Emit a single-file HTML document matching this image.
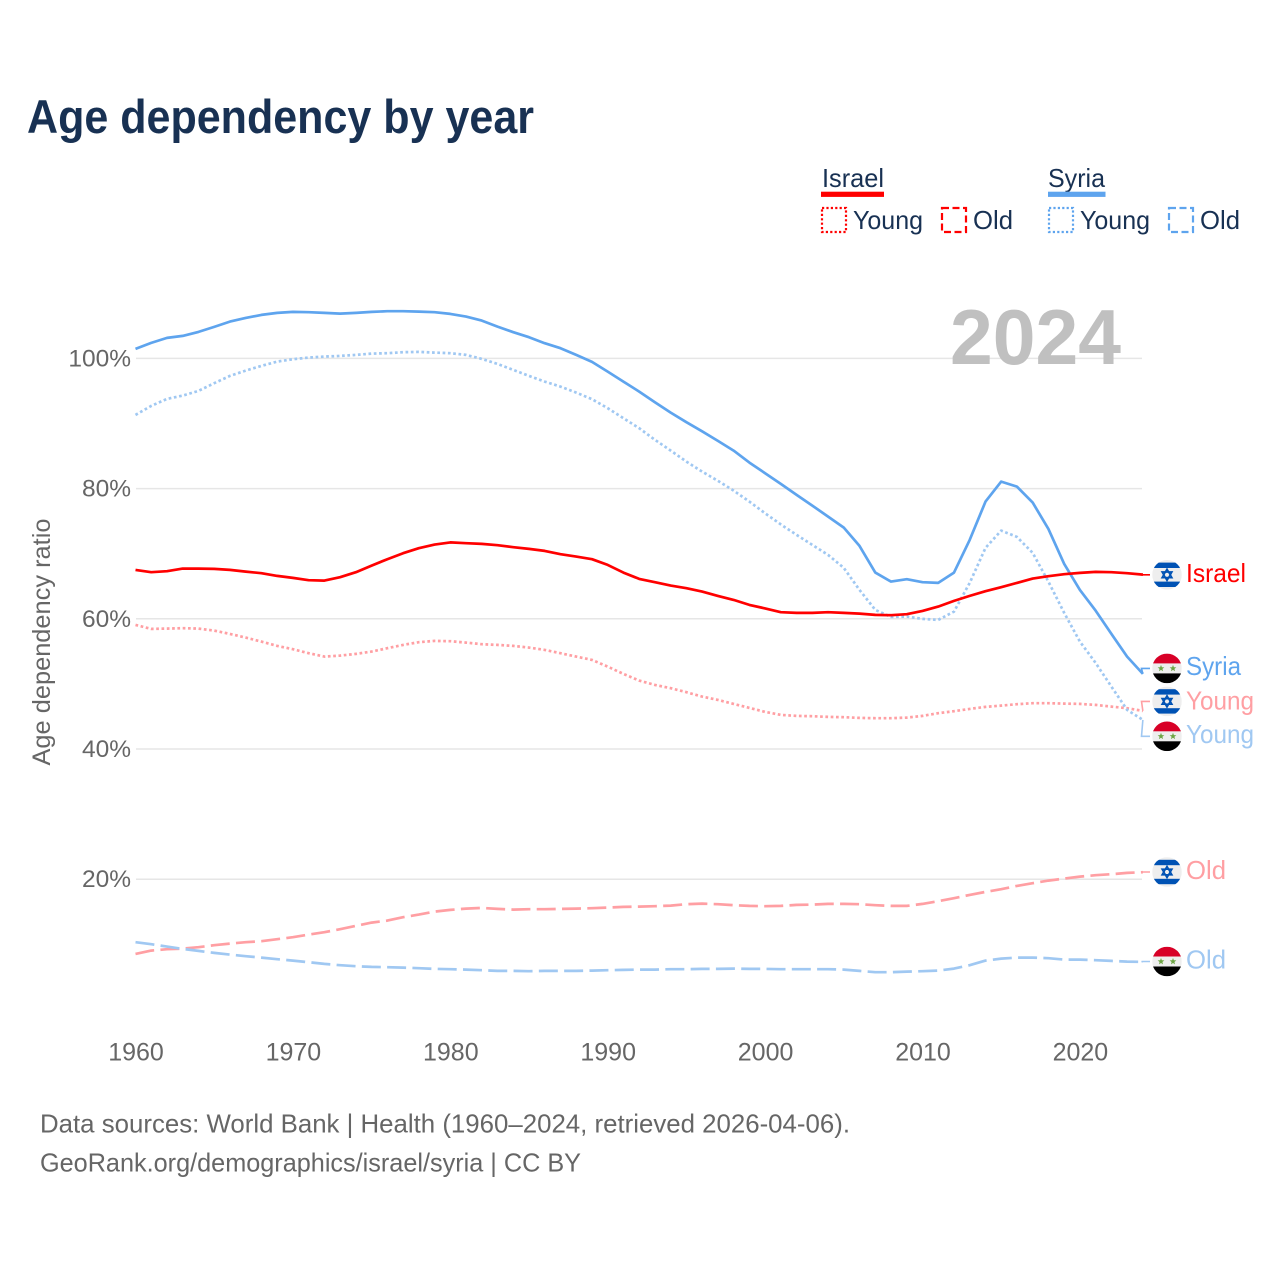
<!DOCTYPE html>
<html lang="en">
<head>
<meta charset="utf-8">
<title>Age dependency by year</title>
<style>
html,body{margin:0;padding:0;background:#fff;}
svg{display:block;font-family:"Liberation Sans",sans-serif;}
.legend-text{fill:#183153;font-size:26px;}
.tick{fill:#666;font-size:24.5px;}
.xtick{fill:#666;font-size:25px;}
.foot{fill:#666;font-size:26px;}
.lab{font-size:26px;}
</style>
</head>
<body>
<svg id="chart" xmlns="http://www.w3.org/2000/svg" width="1280" height="1280" viewBox="0 0 1280 1280">
  <rect x="0" y="0" width="1280" height="1280" fill="#fff"/>
  <text x="27" y="133" font-size="47" font-weight="700" fill="#183153" textLength="507" lengthAdjust="spacingAndGlyphs">Age dependency by year</text>

  <g>
    <text class="legend-text" x="822" y="187" textLength="62" lengthAdjust="spacingAndGlyphs">Israel</text>
    <rect x="821" y="191.7" width="63" height="5.2" fill="#ff0000"/>
    <text class="legend-text" x="1048" y="187" textLength="57" lengthAdjust="spacingAndGlyphs">Syria</text>
    <rect x="1048" y="191.7" width="57.5" height="5.2" fill="#5ea4ee"/>

    <rect x="822" y="208" width="24" height="24" fill="none" stroke="#ff0000" stroke-width="2.2" stroke-dasharray="2.2 2.2"/>
    <text class="legend-text" x="853" y="229" textLength="70" lengthAdjust="spacingAndGlyphs">Young</text>
    <rect x="942" y="208" width="24" height="24" fill="none" stroke="#ff0000" stroke-width="2.2" stroke-dasharray="7 3.5"/>
    <text class="legend-text" x="973" y="229" textLength="40" lengthAdjust="spacingAndGlyphs">Old</text>

    <rect x="1049" y="208" width="24" height="24" fill="none" stroke="#5ea4ee" stroke-width="2.2" stroke-dasharray="2.2 2.2"/>
    <text class="legend-text" x="1080" y="229" textLength="70" lengthAdjust="spacingAndGlyphs">Young</text>
    <rect x="1169" y="208" width="24" height="24" fill="none" stroke="#5ea4ee" stroke-width="2.2" stroke-dasharray="7 3.5"/>
    <text class="legend-text" x="1200" y="229" textLength="40" lengthAdjust="spacingAndGlyphs">Old</text>
  </g>

  <g id="grid"></g>
  <text x="950" y="364" font-size="78" font-weight="700" fill="#c0c0c0" textLength="171" lengthAdjust="spacingAndGlyphs">2024</text>
  <g id="yticks"></g>
  <g id="xticks"></g>
  <text transform="translate(50,642) rotate(-90)" text-anchor="middle" font-size="25" fill="#666" textLength="247" lengthAdjust="spacingAndGlyphs">Age dependency ratio</text>
  <g id="series"></g>
  <g id="ends"></g>

  <text class="foot" x="40" y="1132.5" textLength="810" lengthAdjust="spacingAndGlyphs">Data sources: World Bank | Health (1960–2024, retrieved 2026-04-06).</text>
  <text class="foot" x="40" y="1171.5" textLength="541" lengthAdjust="spacingAndGlyphs">GeoRank.org/demographics/israel/syria | CC BY</text>
</svg>
<script>
const startYear = 1960;
const xTickYears = [1960, 1970, 1980, 1990, 2000, 2010, 2020];
const yTickValues = [100, 80, 60, 40, 20];

const syriaTotal = [101.46,102.38,103.15,103.46,104.07,104.84,105.65,106.22,106.68,106.99,
107.14,107.10,106.99,106.88,106.99,107.14,107.25,107.25,107.19,107.10,
106.84,106.42,105.81,104.88,104.02,103.26,102.33,101.57,100.54,99.46,
97.97,96.44,94.90,93.27,91.67,90.20,88.80,87.33,85.84,83.99,
82.37,80.72,79.03,77.39,75.70,74.01,71.20,67.10,65.71,66.08,
65.62,65.51,67.10,72.12,78.00,81.07,80.31,77.85,73.81,68.43,
64.44,61.26,57.68,54.19,51.54];
const syriaYoung = [91.32,92.70,93.78,94.29,95.01,96.19,97.31,98.13,98.85,99.51,
99.88,100.12,100.28,100.38,100.54,100.74,100.80,100.95,101.00,100.89,
100.80,100.54,99.92,99.15,98.23,97.31,96.44,95.67,94.75,93.73,
92.35,90.81,89.28,87.50,85.84,84.15,82.61,81.20,79.69,78.00,
76.20,74.50,72.89,71.35,69.82,67.82,64.44,61.37,60.29,60.34,
59.98,59.83,61.11,65.51,70.89,73.55,72.58,70.12,65.71,60.91,
56.50,53.23,49.58,46.01,44.47];
const syriaOld = [10.32,10.02,9.65,9.29,8.99,8.68,8.42,8.17,7.96,7.71,
7.50,7.25,6.99,6.79,6.64,6.53,6.48,6.42,6.33,6.22,
6.18,6.11,6.02,5.91,5.91,5.87,5.91,5.91,5.91,5.96,
6.02,6.07,6.11,6.11,6.18,6.18,6.22,6.22,6.27,6.22,
6.22,6.18,6.18,6.18,6.18,6.11,5.91,5.71,5.71,5.81,
5.87,5.96,6.27,6.79,7.50,7.80,7.96,7.96,7.86,7.65,
7.65,7.56,7.45,7.34,7.30];
const israelTotal = [67.51,67.16,67.31,67.71,67.71,67.66,67.51,67.25,67.00,66.59,
66.28,65.93,65.87,66.39,67.16,68.17,69.15,70.08,70.84,71.40,
71.74,71.61,71.51,71.31,71.00,70.74,70.43,69.92,69.55,69.15,
68.28,67.10,66.13,65.62,65.10,64.70,64.18,63.52,62.90,62.14,
61.60,61.01,60.91,60.91,61.01,60.91,60.80,60.60,60.55,60.71,
61.21,61.87,62.75,63.52,64.24,64.85,65.51,66.18,66.54,66.85,
67.05,67.20,67.16,67.00,66.79];
const israelYoung = [59.06,58.45,58.49,58.56,58.49,58.19,57.68,57.11,56.50,55.84,
55.33,54.72,54.19,54.35,54.61,54.96,55.48,55.99,56.41,56.61,
56.56,56.34,56.10,55.99,55.84,55.58,55.22,54.72,54.19,53.69,
52.66,51.54,50.51,49.85,49.34,48.72,48.05,47.54,46.93,46.31,
45.70,45.24,45.08,45.04,44.93,44.88,44.78,44.73,44.73,44.82,
45.08,45.50,45.81,46.16,46.47,46.67,46.88,47.03,47.03,46.97,
46.93,46.77,46.51,46.27,45.85];
const israelOld = [8.53,9.03,9.25,9.34,9.55,9.86,10.11,10.32,10.48,10.78,
11.09,11.49,11.86,12.32,12.83,13.33,13.64,14.16,14.56,15.02,
15.28,15.48,15.59,15.44,15.33,15.39,15.39,15.44,15.48,15.55,
15.64,15.75,15.79,15.85,15.94,16.16,16.25,16.16,16.01,15.90,
15.85,15.90,16.05,16.10,16.21,16.21,16.16,16.01,15.90,15.90,
16.21,16.62,17.08,17.59,18.05,18.46,18.97,19.39,19.78,20.09,
20.40,20.61,20.77,20.97,21.08];

const NS = 'http://www.w3.org/2000/svg';
const RED = '#ff0000', BLUE = '#5ea4ee', PINK = '#ff9fa3', SKY = '#a0c8f2';
function xScale(year){ return 135.5 + (year - startYear) * 15.74; }
function yScale(v){ return 1009.4 - 6.51 * v; }
function mk(tag, parent, attrs){
  const el = document.createElementNS(NS, tag);
  for (const k in attrs) el.setAttribute(k, attrs[k]);
  parent.appendChild(el);
  return el;
}
const gridG = document.getElementById('grid');
const yG = document.getElementById('yticks');
const xG = document.getElementById('xticks');
const seriesG = document.getElementById('series');
const endsG = document.getElementById('ends');

yTickValues.forEach(function(v){
  const line = mk('line', gridG, {x1:136, x2:1142, y1:yScale(v), y2:yScale(v), stroke:'#e6e6e6', 'stroke-width':1.5});
  
  
  const t = mk('text', yG, {x:131, y:yScale(v) + 8, 'text-anchor':'end', class:'tick'});
  t.textContent = v + '%';
  
  
});
xTickYears.forEach(function(yr){
  const t = mk('text', xG, {x:xScale(yr) + 0.5, y:1060.5, 'text-anchor':'middle', class:'xtick'});
  t.textContent = yr;
  
  
});

function drawLine(name, values, color, width, dash){
  const pts = values.map(function(v, i){ return xScale(startYear + i).toFixed(1) + ',' + yScale(v).toFixed(1); }).join(' ');
  const attrs = {points:pts, fill:'none', stroke:color, 'stroke-width':width, 'stroke-linejoin':'round'};
  if (dash) attrs['stroke-dasharray'] = dash;
  const p = mk('polyline', seriesG, attrs);
  
  
}
drawLine('israel-young-line', israelYoung, PINK, 2.7, '2.7 2.6');
drawLine('syria-young-line', syriaYoung, SKY, 2.7, '2.7 2.6');
drawLine('israel-old-line', israelOld, PINK, 2.7, '19 6.3');
drawLine('syria-old-line', syriaOld, SKY, 2.7, '19 6.3');
drawLine('syria-total-line', syriaTotal, BLUE, 2.7, null);
drawLine('israel-total-line', israelTotal, RED, 2.7, null);

function drawFlag(name, kind, cy){
  const cx = 1167, r = 14.8;
  const g = mk('g', endsG, {});
  
  
  const clipId = 'clip-' + name;
  const cp = mk('clipPath', g, {id:clipId});
  mk('circle', cp, {cx:cx, cy:cy, r:r});
  const inner = mk('g', g, {'clip-path':'url(#' + clipId + ')'});
  mk('rect', inner, {x:cx - r, y:cy - r, width:2 * r, height:2 * r, fill:'#eeeeee'});
  if (kind === 'israel') {
    mk('rect', inner, {x:cx - r, y:cy - 12.2, width:2 * r, height:5.4, fill:'#0052b4'});
    mk('rect', inner, {x:cx - r, y:cy + 6.8, width:2 * r, height:5.4, fill:'#0052b4'});
    const s = 5.6;
    mk('polygon', inner, {points:(cx) + ',' + (cy - s) + ' ' + (cx + s * 0.87) + ',' + (cy + s * 0.5) + ' ' + (cx - s * 0.87) + ',' + (cy + s * 0.5), fill:'none', stroke:'#0052b4', 'stroke-width':1.7});
    mk('polygon', inner, {points:(cx) + ',' + (cy + s) + ' ' + (cx + s * 0.87) + ',' + (cy - s * 0.5) + ' ' + (cx - s * 0.87) + ',' + (cy - s * 0.5), fill:'none', stroke:'#0052b4', 'stroke-width':1.7});
  } else {
    mk('rect', inner, {x:cx - r, y:cy - r, width:2 * r, height:r - 5, fill:'#d80027'});
    mk('rect', inner, {x:cx - r, y:cy + 5, width:2 * r, height:r - 5, fill:'#000000'});
    [-6, 6].forEach(function(dx){
      let pts = '';
      for (let i = 0; i < 10; i++) {
        const rad = i % 2 ? 1.5 : 3.5;
        const a = -Math.PI / 2 + i * Math.PI / 5;
        pts += (cx + dx + rad * Math.cos(a)).toFixed(2) + ',' + (cy + rad * Math.sin(a)).toFixed(2) + ' ';
      }
      mk('polygon', inner, {points:pts, fill:'#6da544'});
    });
  }
}
function drawEnd(key, text, values, color, lineColor, kind, cy, baseline, len){
  const ex = xScale(2024), ey = yScale(values[values.length - 1]);
  const c = mk('polyline', endsG, {points:ex + ',' + ey + ' 1141.5,' + cy + ' 1150,' + cy, fill:'none', stroke:lineColor, 'stroke-width':1.6});
  
  
  drawFlag(key + '-flag', kind, cy);
  const t = mk('text', endsG, {x:1186, y:baseline, class:'lab', fill:color, textLength:len, lengthAdjust:'spacingAndGlyphs'});
  t.textContent = text;
  
  
}
drawEnd('israel-total', 'Israel', israelTotal, RED, RED, 'israel', 574.8, 582, 60);
drawEnd('syria-total', 'Syria', syriaTotal, BLUE, BLUE, 'syria', 668.4, 675, 55);
drawEnd('israel-young', 'Young', israelYoung, PINK, PINK, 'israel', 701.4, 709.5, 68);
drawEnd('syria-young', 'Young', syriaYoung, SKY, SKY, 'syria', 736.3, 743, 68);
drawEnd('israel-old', 'Old', israelOld, PINK, PINK, 'israel', 872, 879, 40);
drawEnd('syria-old', 'Old', syriaOld, SKY, SKY, 'syria', 961.5, 968.5, 40);
</script>
</body>
</html>
